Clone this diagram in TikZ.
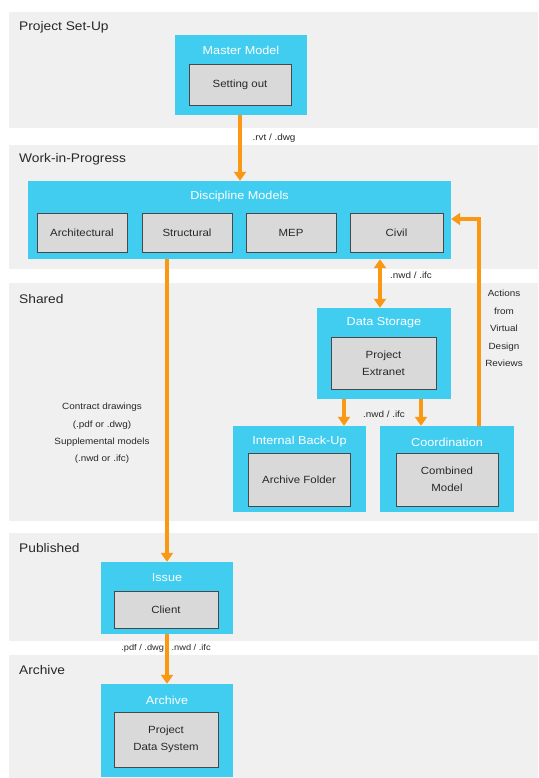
\documentclass[tikz,border=0pt]{standalone}
\usepackage{fontspec}
\setmainfont{Liberation Sans}[FakeStretch=1.1]
\usetikzlibrary{arrows.meta}

\definecolor{bandgray}{RGB}{240,240,240}
\definecolor{boxcyan}{RGB}{65,205,240}
\definecolor{innergray}{RGB}{217,217,217}
\definecolor{flow}{RGB}{250,152,20}
\definecolor{txt}{RGB}{40,40,40}

\tikzset{
  band/.style={fill=bandgray},
  bandlabel/.style={anchor=west, inner sep=0pt, text=txt, font=\fontsize{12.5}{14}\selectfont},
  stage/.style={fill=boxcyan, inner sep=0pt},
  stagetitle/.style={text=white, font=\fontsize{11.5}{13}\selectfont},
  item/.style={draw=txt!85, line width=0.9pt, fill=innergray, inner sep=0pt,
    align=center, text=txt, font=\fontsize{10.4}{17}\selectfont},
  note/.style={text=txt, align=center, font=\fontsize{9}{17.4}\selectfont},
  flowline/.style={draw=flow, line width=3.4pt, -{Triangle[width=12pt,length=9pt]}},
}

\begin{document}
\begin{tikzpicture}[x=1pt, y=-1pt]
        \useasboundingbox (0,0) rectangle (538,778);
        \fill[white] (0,0) rectangle (538,778);

        % phases
        \fill[band] (9,12) rectangle (538,128);
        \fill[band] (9,145) rectangle (538,269);
        \fill[band] (9,283) rectangle (538,521);
        \fill[band] (9,533) rectangle (538,641);
        \fill[band] (9,655) rectangle (538,778);

        \node[bandlabel] (setup) at (19,27) {Project Set-Up};
        \node[bandlabel] (wip) at (19,159) {Work-in-Progress};
        \node[bandlabel] (shared) at (19,299) {Shared};
        \node[bandlabel] (published) at (19,548) {Published};
        \node[bandlabel] (archived) at (19,670) {Archive};

        % project set-up
        \node[stage, minimum width=132pt, minimum height=80pt] (master) at (241,75) {};
        \node[stagetitle] (mastertitle) at (241,50) {Master Model};
        \node[item, minimum width=102pt, minimum height=41pt] (settingout) at (240,84.5) {Setting out};

        % work-in-progress
        \node[stage, minimum width=423pt, minimum height=78pt] (disc) at (239.5,220) {};
        \node[stagetitle] (disctitle) at (239.5,197) {Discipline Models};
        \node[item, minimum width=90pt, minimum height=39pt] (arch) at (82,232.5) {Architectural};
        \node[item, minimum width=90pt, minimum height=39pt] (struct) at (187,232.5) {Structural};
        \node[item, minimum width=90pt, minimum height=39pt] (mep) at (291,232.5) {MEP};
        \node[item, minimum width=93pt, minimum height=39pt] (civil) at (396.5,232.5) {Civil};

        % shared
        \node[stage, minimum width=134pt, minimum height=91pt] (data) at (384,353.5) {};
        \node[stagetitle] (datatitle) at (384,323) {Data Storage};
        \node[item, minimum width=105pt, minimum height=52pt] (extranet) at (383.5,363) {Project\\Extranet};

        \node[stage, minimum width=133pt, minimum height=86pt] (backup) at (299.5,469) {};
        \node[stagetitle] (backuptitle) at (299.5,442) {Internal Back-Up};
        \node[item, minimum width=102pt, minimum height=53pt] (folder) at (299,479.5) {Archive Folder};

        \node[stage, minimum width=134pt, minimum height=86pt] (coord) at (447,469) {};
        \node[stagetitle] (coordtitle) at (447,442) {Coordination};
        \node[item, minimum width=102pt, minimum height=53pt] (combined) at (447,479.5) {Combined\\Model};

        % published
        \node[stage, minimum width=132pt, minimum height=72pt] (issue) at (167,598) {};
        \node[stagetitle] (issuetitle) at (167,578) {Issue};
        \node[item, minimum width=104pt, minimum height=37pt] (client) at (166,609.5) {Client};

        % archive
        \node[stage, minimum width=132pt, minimum height=93pt] (arcbox) at (167,730.5) {};
        \node[stagetitle] (arctitle) at (167,700) {Archive};
        \node[item, minimum width=104pt, minimum height=55pt] (pds) at (166,739.5) {Project\\Data System};

        % labels
        \node[note] (rvt) at (274,138) {.rvt / .dwg};
        \node[note] (nwdup) at (411,275) {.nwd / .ifc};
        \node[note] (nwddown) at (384,414) {.nwd / .ifc};
        \node[note] (actions) at (504,328.5) {Actions\\from\\Virtual\\Design\\Reviews};
        \node[note] (contract) at (102,433.5) {Contract drawings\\(.pdf or .dwg)\\Supplemental models\\(.nwd or .ifc)};
        \node[note, font=\fontsize{8.4}{9}\selectfont] (formats) at (166,648) {.pdf / .dwg / .nwd / .ifc};

        % flows
        \coordinate (setout) at (240,0);
        \coordinate (nwd) at (380,0);
        \coordinate (toback) at (344,0);
        \coordinate (tocoord) at (421,0);
        \coordinate (review) at (479,219);

        \draw[flowline] (setout |- master.south) -- (setout |- disc.north);
        \draw[flowline, {Triangle[width=12pt,length=9pt]}-{Triangle[width=12pt,length=9pt]}]
          (nwd |- disc.south) -- (nwd |- data.north);
        \draw[flowline] (toback |- data.south) -- (toback |- backup.north);
        \draw[flowline] (tocoord |- data.south) -- (tocoord |- coord.north);
        \draw[flowline] (review |- coord.north) -- (review) -- (review -| disc.east);
        \draw[flowline] (issue.north |- disc.south) -- (issue.north);
        \draw[flowline] (issue.south) -- (arcbox.north);
      \end{tikzpicture}
\end{document}
